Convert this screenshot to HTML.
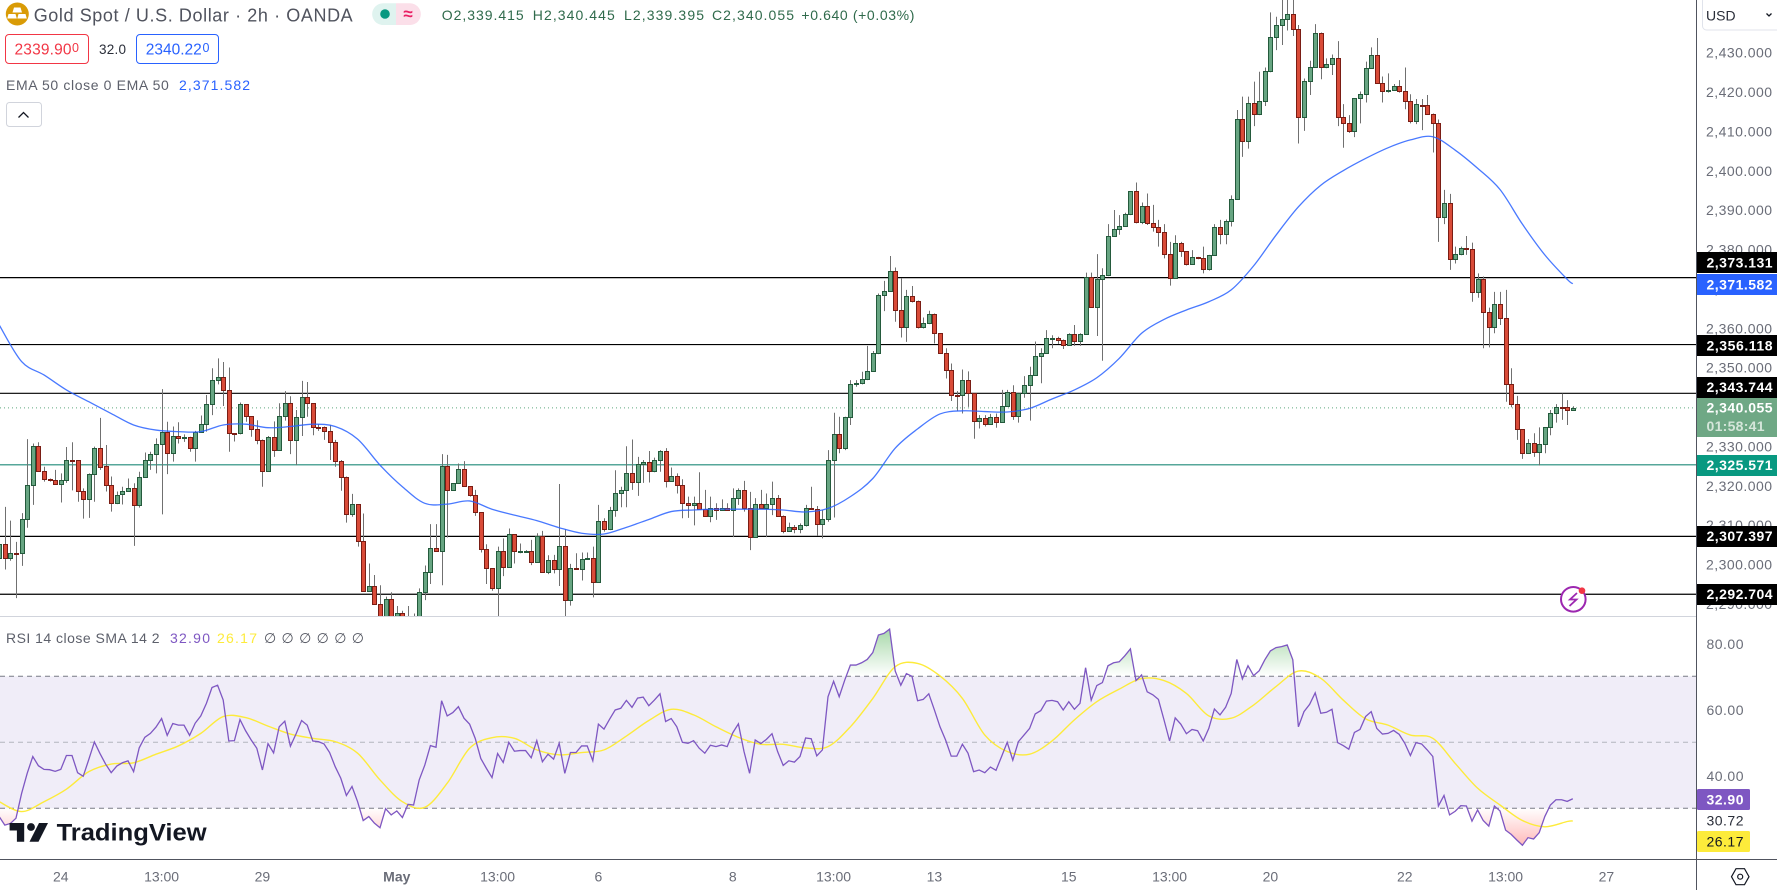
<!DOCTYPE html>
<html lang="en">
<head>
<meta charset="utf-8">
<title>Gold Spot / U.S. Dollar 2h chart</title>
<style>
html,body{margin:0;padding:0;background:#fff;width:1777px;height:890px;overflow:hidden}
svg{display:block;font-family:"Liberation Sans","DejaVu Sans",sans-serif}
.tick{font-size:14px;fill:#6a6d78;dominant-baseline:central}
.tag{font-size:14px;fill:#fff;dominant-baseline:central;font-weight:bold}
.leg{font-size:14px;fill:#5d606b;dominant-baseline:central}
</style>
</head>
<body>
<svg id="chart" xmlns="http://www.w3.org/2000/svg" width="1777" height="890" viewBox="0 0 1777 890">
  <defs>
    <clipPath id="mainClip"><rect x="0" y="0" width="1696" height="616"/></clipPath>
    <clipPath id="rsiClip"><rect x="0" y="617" width="1696" height="242"/></clipPath>
    <clipPath id="overClip"><rect x="0" y="617" width="1696" height="59.3"/></clipPath>
    <clipPath id="underClip"><rect x="0" y="808.3" width="1696" height="51"/></clipPath>
    <clipPath id="axisClip"><rect x="1697" y="31" width="80" height="585"/></clipPath>
    <linearGradient id="overGrad" gradientUnits="userSpaceOnUse" x1="0" y1="676" x2="0" y2="628">
      <stop offset="0" stop-color="#4caf50" stop-opacity="0"/><stop offset="1" stop-color="#4caf50" stop-opacity="0.5"/>
    </linearGradient>
    <linearGradient id="underGrad" gradientUnits="userSpaceOnUse" x1="0" y1="808" x2="0" y2="850">
      <stop offset="0" stop-color="#ff5252" stop-opacity="0"/><stop offset="1" stop-color="#ff5252" stop-opacity="0.45"/>
    </linearGradient>
  </defs>

  <rect x="0" y="676.3" width="1696" height="132" fill="#f0edf8"/>

  <g id="levels"></g>
  <g id="candles" clip-path="url(#mainClip)"></g>
  <path id="emaLine" clip-path="url(#mainClip)" fill="none" stroke="#2962ff" stroke-width="1.3" opacity="0.85"/>

  <g id="rsiPane" clip-path="url(#rsiClip)">
    <line x1="0" x2="1696" y1="676.3" y2="676.3" stroke="#787b86" stroke-dasharray="5 4"/>
    <line x1="0" x2="1696" y1="742.3" y2="742.3" stroke="#b2b5be" stroke-dasharray="5 4"/>
    <line x1="0" x2="1696" y1="808.3" y2="808.3" stroke="#787b86" stroke-dasharray="5 4"/>
    <path id="rsiOver" clip-path="url(#overClip)" fill="url(#overGrad)"/>
    <path id="rsiUnder" clip-path="url(#underClip)" fill="url(#underGrad)"/>
    <path id="smaLine" fill="none" stroke="#fdeb3b" stroke-width="1.4"/>
    <path id="rsiLine" fill="none" stroke="#7e57c2" stroke-width="1.3"/>
  </g>

  <!-- separators -->
  <line x1="0" x2="1696" y1="616.5" y2="616.5" stroke="#d1d4dc" stroke-width="1"/>
  <line x1="1696.5" x2="1696.5" y1="0" y2="890" stroke="#50535e" stroke-width="1"/>
  <line x1="0" x2="1777" y1="859.5" y2="859.5" stroke="#50535e" stroke-width="1"/>

  <!-- legend -->
  <g>
    <circle cx="17.3" cy="14" r="11.5" fill="#d99b06"/>
    <path d="M14 7.5h6.5l1.5 5h-9.5zM8.500 14h7l1.300 4.500h-9.500zM18.500 14h7l1.300 4.500h-9.500z" fill="#fff"/>
    <text x="33.700" y="15.500" font-size="18" fill="#50535e" style="dominant-baseline:central" textLength="319" lengthAdjust="spacing">Gold Spot / U.S. Dollar · 2h · OANDA</text>
    <path d="M383 3.300h13v21.700h-13a10.800 10.800 0 0 1 0-21.700z" fill="#dff3ef"/>
    <path d="M396 3.300h14a10.800 10.800 0 0 1 0 21.700h-14z" fill="#fbdfe9"/>
    <circle cx="385" cy="14" r="4.800" fill="#089981"/>
    <text x="408" y="14" font-size="17" font-weight="bold" fill="#e91e63" text-anchor="middle" style="dominant-baseline:central">≈</text>
    <text x="441.700" y="15" font-size="14" fill="#2f6a4b" style="dominant-baseline:central" textLength="82" lengthAdjust="spacing">O2,339.415</text>
    <text x="532.800" y="15" font-size="14" fill="#2f6a4b" style="dominant-baseline:central" textLength="82" lengthAdjust="spacing">H2,340.445</text>
    <text x="624" y="15" font-size="14" fill="#2f6a4b" style="dominant-baseline:central" textLength="80" lengthAdjust="spacing">L2,339.395</text>
    <text x="712" y="15" font-size="14" fill="#2f6a4b" style="dominant-baseline:central" textLength="82" lengthAdjust="spacing">C2,340.055</text>
    <text x="801.400" y="15" font-size="14" fill="#2f6a4b" style="dominant-baseline:central" textLength="113" lengthAdjust="spacing">+0.640 (+0.03%)</text>

    <rect x="5.500" y="34.500" width="83" height="29" rx="3.500" fill="#fff" stroke="#f23645"/>
    <text x="14.500" y="50" font-size="15.500" fill="#f23645" style="dominant-baseline:central" textLength="57" lengthAdjust="spacing">2339.90</text>
    <text x="72" y="48" font-size="12.500" fill="#f23645" style="dominant-baseline:central">0</text>
    <text x="99" y="49.500" font-size="13.500" fill="#2a2e39" style="dominant-baseline:central" textLength="27" lengthAdjust="spacing">32.0</text>
    <rect x="136.500" y="34.500" width="82" height="29" rx="3.500" fill="#fff" stroke="#2962ff"/>
    <text x="145.800" y="50" font-size="15.500" fill="#2962ff" style="dominant-baseline:central" textLength="56" lengthAdjust="spacing">2340.22</text>
    <text x="202.500" y="48" font-size="12.500" fill="#2962ff" style="dominant-baseline:central">0</text>

    <text class="leg" x="6" y="85" textLength="162.800" lengthAdjust="spacing">EMA 50 close 0 EMA 50</text>
    <text x="179" y="85" font-size="14" fill="#2962ff" style="dominant-baseline:central" textLength="71" lengthAdjust="spacing">2,371.582</text>

    <rect x="6.500" y="102.500" width="35" height="24" rx="3" fill="#fff" stroke="#d1d4dc"/>
    <path d="M18.500 117.500l5-5 5 5" fill="none" stroke="#131722" stroke-width="1.300"/>

    <text class="leg" x="6" y="638" textLength="153.600" lengthAdjust="spacing">RSI 14 close SMA 14 2</text>
    <text x="170" y="638" font-size="14" fill="#7e57c2" style="dominant-baseline:central" textLength="40" lengthAdjust="spacing">32.90</text>
    <text x="217" y="638" font-size="14" fill="#fdeb3b" style="dominant-baseline:central" textLength="40" lengthAdjust="spacing">26.17</text>
    <text x="264" y="638" font-size="14" fill="#50535e" style="dominant-baseline:central" textLength="100" lengthAdjust="spacing">∅ ∅ ∅ ∅ ∅ ∅</text>
  </g>

  <!-- TradingView logo -->
  <g>
    <path d="M9.600 823h14.600v18.700h-7.300v-11.200h-7.300z" fill="#131722"/>
    <circle cx="31" cy="827" r="3.900" fill="#131722"/>
    <path d="M39 823h9l-9.500 18.700h-9z" fill="#131722"/>
    <text x="56.600" y="833" font-size="24" font-weight="bold" fill="#131722" style="dominant-baseline:central" textLength="150" lengthAdjust="spacingAndGlyphs">TradingView</text>
  </g>

  <!-- alert icon -->
  <g>
    <circle cx="1573.300" cy="599.300" r="12.300" fill="#fff" stroke="#9c27b0" stroke-width="2"/>
    <path d="M1577 593l-7 6.500h6.500l-7 6.500" fill="none" stroke="#9c27b0" stroke-width="1.800"/>
    <circle cx="1582" cy="590.700" r="3.300" fill="#f23645"/>
  </g>

  <!-- price axis -->
  <rect x="1697" y="0" width="80" height="616" fill="#fff"/>
  <g id="priceTicks" clip-path="url(#axisClip)"></g>
  <rect x="1702.500" y="-3" width="80" height="33" rx="4" fill="#fff" stroke="#e0e3eb"/>
  <text x="1706" y="15.500" font-size="14" fill="#2a2e39" style="dominant-baseline:central">USD</text>
  <path d="M1766.500 13.500l2.500 2.500 2.500-2.500" fill="none" stroke="#131722" stroke-width="1.300"/>

  <g>
    <rect x="1697" y="252" width="80" height="21" fill="#000"/>
    <text class="tag" x="1706.500" y="262.500" textLength="66" lengthAdjust="spacing">2,373.131</text>
    <rect x="1697" y="274" width="80" height="21" fill="#2962ff"/>
    <text class="tag" x="1706.500" y="284.500" textLength="66" lengthAdjust="spacing">2,371.582</text>
    <rect x="1697" y="335" width="80" height="21" fill="#000"/>
    <text class="tag" x="1706.500" y="345.500" textLength="66" lengthAdjust="spacing">2,356.118</text>
    <rect x="1697" y="377" width="80" height="21" fill="#000"/>
    <text class="tag" x="1706.500" y="387" textLength="66" lengthAdjust="spacing">2,343.744</text>
    <rect x="1697" y="398" width="80" height="39" fill="#6fa885"/>
    <text class="tag" x="1706.500" y="407.500" textLength="66" lengthAdjust="spacing">2,340.055</text>
    <text x="1706.500" y="426" font-size="14" fill="#d5e6da" font-weight="bold" style="dominant-baseline:central" textLength="58" lengthAdjust="spacing">01:58:41</text>
    <rect x="1697" y="455" width="80" height="21" fill="#089981"/>
    <text class="tag" x="1706.500" y="465" textLength="66" lengthAdjust="spacing">2,325.571</text>
    <rect x="1697" y="526" width="80" height="21" fill="#000"/>
    <text class="tag" x="1706.500" y="536" textLength="66" lengthAdjust="spacing">2,307.397</text>
    <rect x="1697" y="584" width="80" height="21" fill="#000"/>
    <text class="tag" x="1706.500" y="594" textLength="66" lengthAdjust="spacing">2,292.704</text>
  </g>

  <!-- RSI axis -->
  <g id="rsiTicks"></g>
  <rect x="1697" y="789" width="53" height="21" rx="1.500" fill="#7e57c2"/>
  <text x="1706.500" y="799.500" font-size="14" fill="#fff" font-weight="bold" style="dominant-baseline:central" textLength="37" lengthAdjust="spacing">32.90</text>
  <text x="1706.500" y="820.700" font-size="14" fill="#2a2e39" style="dominant-baseline:central" textLength="37" lengthAdjust="spacing">30.72</text>
  <rect x="1697" y="831" width="53" height="21" rx="1.500" fill="#fdeb3b"/>
  <text x="1706.500" y="841.500" font-size="14" fill="#131722" style="dominant-baseline:central" textLength="37" lengthAdjust="spacing">26.17</text>

  <!-- time axis -->
  <g id="timeTicks"></g>
  <g>
    <path d="M1731.500 876.700l4.500-8h8.500l4.500 8-4.500 8h-8.500z" fill="none" stroke="#131722" stroke-width="1.200"/>
    <circle cx="1740.200" cy="876.700" r="2.500" fill="none" stroke="#131722" stroke-width="1.200"/>
  </g>
</svg>

<script>
const opens = [
2301.8,2305.4,2301.8,2303.3,2303.1,2311.7,2320.4,2330.3,2324.1,2322.1,
2321.8,2320.8,2321.6,2326.7,2326.7,2319.0,2316.8,2323.2,2329.8,2325.3,
2320.4,2315.8,2318.1,2319.0,2319.8,2315.3,2322.6,2326.7,2328.2,2330.8,
2333.8,2328.7,2332.8,2332.5,2332.6,2329.8,2333.8,2335.9,2340.9,2347.0,
2348.0,2344.7,2333.6,2333.6,2340.9,2337.9,2334.6,2332.0,2324.1,2332.6,
2329.3,2338.1,2341.2,2332.0,2337.6,2342.7,2341.2,2335.3,2335.1,2334.1,
2331.3,2326.5,2322.4,2313.0,2315.5,2306.1,2293.4,2294.7,2290.1,2284.5,
2291.5,2284.5,2287.9,2285.0,2282.0,2283.0,2293.2,2298.3,2304.4,2303.6,
2325.3,2319.3,2320.9,2324.4,2320.1,2318.0,2313.5,2304.1,2299.3,2294.4,
2303.8,2299.5,2307.9,2303.7,2303.8,2303.8,2301.0,2307.4,2298.4,2301.3,
2299.0,2304.9,2291.2,2299.3,2299.2,2301.6,2301.8,2295.9,2311.3,2309.2,
2314.0,2318.3,2319.3,2323.4,2321.1,2325.7,2326.2,2323.9,2326.7,2329.2,
2321.4,2322.7,2320.4,2315.8,2315.3,2316.0,2314.3,2312.5,2314.5,2314.0,
2314.5,2314.0,2317.1,2319.3,2314.7,2307.2,2315.5,2314.5,2315.5,2317.1,
2312.7,2308.7,2309.7,2309.2,2310.2,2314.5,2314.3,2310.5,2311.7,2326.7,
2333.3,2329.8,2337.6,2346.1,2346.3,2347.5,2349.3,2353.9,2368.6,2369.6,
2374.7,2364.8,2360.7,2368.4,2367.3,2360.5,2361.5,2364.0,2359.0,2354.1,
2349.6,2343.2,2343.2,2347.0,2343.7,2336.6,2337.4,2336.0,2337.6,2336.4,
2340.4,2344.0,2338.1,2343.7,2345.8,2348.3,2353.1,2354.1,2357.7,2357.8,
2357.4,2355.9,2358.7,2356.9,2358.7,2373.2,2365.7,2372.7,2373.7,2383.6,
2385.4,2386.2,2389.2,2395.0,2387.3,2391.2,2386.9,2386.1,2384.8,2379.0,
2373.1,2381.8,2379.8,2376.7,2378.3,2378.0,2375.2,2378.8,2385.9,2384.1,
2387.4,2393.2,2413.3,2407.7,2417.4,2414.6,2417.9,2425.5,2434.2,2437.2,
2438.7,2440.0,2436.2,2413.8,2423.0,2426.5,2435.2,2426.5,2427.3,2428.8,
2413.8,2412.3,2410.4,2418.7,2419.7,2426.3,2429.6,2422.6,2420.4,2420.9,
2421.9,2420.4,2417.9,2412.8,2417.0,2416.9,2414.8,2412.3,2388.6,2392.0,
2377.8,2379.0,2380.6,2380.3,2369.4,2372.8,2364.3,2360.5,2366.4,2362.8,
2346.0,2340.9,2334.6,2328.5,2331.0,2328.9,2330.8,2335.1,2338.7,2340.2,
2340.2,2339.415];
const highs = [
2305.4,2314.9,2311.4,2306.0,2313.3,2332.1,2331.0,2331.3,2325.1,2322.1,
2324.3,2323.4,2330.1,2331.3,2326.7,2319.6,2323.4,2330.2,2337.5,2330.6,
2322.6,2318.8,2320.0,2322.1,2320.9,2323.8,2328.7,2328.9,2332.3,2344.8,
2336.5,2335.3,2336.4,2333.3,2332.7,2334.2,2338.1,2343.3,2350.1,2352.6,
2351.7,2350.3,2333.6,2341.4,2340.9,2337.9,2336.9,2332.0,2332.9,2336.6,
2341.2,2344.3,2343.0,2339.5,2346.9,2346.6,2341.2,2335.9,2335.3,2335.7,
2331.9,2326.8,2322.6,2318.2,2315.5,2313.2,2300.5,2297.6,2295.0,2292.1,
2293.2,2289.7,2288.5,2289.7,2287.8,2294.2,2300.0,2310.5,2310.5,2328.3,
2328.1,2320.9,2325.9,2326.5,2320.1,2319.2,2313.5,2305.4,2299.3,2304.8,
2306.9,2309.4,2307.9,2305.6,2303.9,2306.5,2308.2,2308.8,2302.6,2302.7,
2320.7,2309.2,2300.4,2303.1,2303.3,2303.3,2304.8,2315.4,2312.0,2314.9,
2324.2,2320.0,2330.3,2332.0,2327.6,2326.8,2329.1,2327.4,2329.3,2329.8,
2324.9,2323.4,2321.9,2317.5,2317.5,2323.7,2319.2,2317.5,2315.8,2316.8,
2315.8,2319.6,2319.6,2321.5,2318.7,2317.1,2319.2,2318.3,2321.3,2317.9,
2312.7,2310.9,2310.3,2310.7,2315.4,2320.0,2315.1,2314.1,2329.3,2338.8,
2337.8,2337.8,2347.1,2347.1,2349.2,2355.8,2354.5,2369.1,2372.3,2378.6,
2375.7,2372.9,2370.0,2371.0,2367.3,2363.0,2364.7,2364.0,2359.0,2355.2,
2351.3,2344.3,2349.8,2349.3,2343.7,2338.2,2338.2,2338.5,2338.6,2344.6,
2344.6,2345.8,2343.9,2348.1,2350.5,2356.9,2355.2,2359.8,2358.5,2358.1,
2357.4,2359.0,2361.1,2359.0,2374.4,2374.4,2379.1,2375.5,2386.7,2390.3,
2389.0,2389.6,2395.0,2397.3,2392.2,2394.5,2391.6,2387.8,2386.7,2382.2,
2383.9,2382.2,2379.8,2380.1,2378.4,2381.0,2378.9,2386.7,2387.8,2387.9,
2394.0,2415.7,2419.1,2419.1,2422.9,2425.4,2426.5,2440.5,2439.4,2445.0,
2445.0,2445.0,2437.3,2423.7,2428.2,2437.5,2435.4,2428.8,2429.8,2433.2,
2417.2,2414.4,2418.7,2420.4,2428.0,2431.6,2434.0,2424.2,2425.0,2422.3,
2423.3,2426.5,2419.7,2418.5,2418.5,2419.5,2414.8,2413.3,2395.4,2394.4,
2381.0,2381.0,2383.7,2382.0,2374.2,2373.4,2365.5,2369.5,2369.5,2370.0,
2350.1,2343.1,2334.6,2332.1,2333.6,2335.1,2335.1,2339.5,2341.0,2343.7,
2342.0,2340.445];
const lows = [
2301.8,2299.0,2301.2,2291.7,2299.9,2309.6,2315.4,2323.8,2321.3,2321.3,
2320.8,2316.0,2321.0,2319.1,2316.2,2311.9,2312.1,2316.2,2324.3,2318.8,
2313.7,2315.6,2315.5,2318.8,2305.0,2314.7,2322.6,2324.3,2323.4,2313.0,
2323.2,2326.4,2331.0,2331.4,2328.9,2326.4,2333.8,2334.0,2338.2,2346.0,
2340.5,2328.9,2331.5,2333.3,2336.5,2332.7,2330.8,2320.0,2323.8,2327.6,
2329.2,2336.8,2328.3,2325.5,2332.9,2337.8,2333.1,2334.2,2331.9,2326.8,
2325.1,2319.0,2310.9,2312.4,2304.8,2293.3,2293.3,2290.1,2284.0,2283.0,
2283.0,2283.0,2283.0,2280.0,2278.0,2281.0,2291.2,2295.3,2303.5,2295.0,
2307.1,2319.2,2320.9,2320.0,2317.5,2312.6,2303.3,2295.3,2293.6,2284.0,
2297.3,2299.4,2300.5,2303.1,2303.6,2300.1,2301.0,2298.4,2297.8,2298.0,
2294.8,2284.0,2289.8,2299.2,2296.2,2301.4,2291.9,2295.9,2308.6,2309.0,
2312.4,2314.8,2314.8,2319.2,2317.7,2321.0,2321.1,2323.7,2323.8,2319.8,
2321.3,2318.3,2312.0,2312.1,2310.2,2314.3,2312.4,2311.0,2311.6,2313.9,
2313.9,2307.2,2315.4,2313.7,2303.9,2307.2,2314.5,2307.2,2312.8,2312.4,
2308.2,2308.6,2308.2,2308.2,2309.9,2314.2,2307.5,2306.9,2311.1,2312.2,
2328.5,2329.3,2335.7,2345.4,2346.0,2347.1,2349.2,2353.7,2364.6,2369.6,
2361.9,2357.9,2356.8,2366.8,2360.2,2360.2,2361.3,2356.4,2354.1,2347.5,
2341.8,2339.2,2338.6,2340.3,2332.2,2334.8,2335.3,2335.9,2335.0,2336.3,
2340.3,2337.0,2336.3,2342.6,2336.8,2348.2,2346.3,2354.0,2355.2,2356.3,
2355.0,2355.8,2355.8,2355.8,2358.6,2365.6,2358.3,2352.0,2373.5,2383.5,
2384.0,2386.1,2389.0,2386.9,2386.7,2386.5,2384.8,2381.0,2378.0,2371.1,
2373.1,2378.4,2376.2,2376.7,2377.8,2374.2,2374.9,2378.6,2381.6,2381.6,
2386.1,2393.2,2403.8,2405.9,2411.6,2414.4,2416.7,2425.3,2430.9,2432.2,
2435.9,2434.5,2407.2,2410.4,2419.5,2426.4,2423.5,2426.3,2424.6,2411.6,
2406.1,2409.9,2408.8,2412.3,2417.6,2426.2,2422.6,2417.6,2420.1,2420.8,
2420.1,2415.9,2412.3,2412.1,2410.6,2414.6,2404.9,2382.2,2386.7,2375.1,
2376.7,2378.8,2378.9,2367.0,2368.0,2355.2,2355.4,2359.0,2361.1,2341.6,
2340.2,2331.9,2327.1,2328.4,2327.6,2325.4,2328.5,2333.1,2336.3,2337.0,
2335.7,2339.395];
const closes = [
2305.4,2301.8,2303.3,2303.2,2311.7,2320.4,2330.3,2324.1,2322.1,2322.0,
2320.8,2321.6,2326.7,2326.6,2319.0,2316.8,2323.2,2329.8,2325.1,2320.4,
2315.8,2318.0,2319.0,2319.8,2315.3,2322.6,2326.7,2328.2,2330.8,2333.8,
2328.7,2332.8,2332.3,2332.6,2329.8,2333.8,2335.9,2340.9,2347.0,2348.0,
2344.7,2333.6,2333.5,2340.9,2337.9,2334.6,2332.0,2324.1,2332.6,2329.3,
2338.1,2341.2,2332.0,2337.6,2342.7,2341.2,2335.3,2335.2,2334.1,2331.3,
2326.5,2322.4,2313.0,2315.5,2306.1,2293.4,2294.7,2290.1,2285.5,2291.5,
2284.5,2287.9,2285.0,2282.0,2283.0,2293.2,2298.3,2304.4,2303.6,2325.3,
2319.3,2320.9,2324.4,2320.1,2318.0,2313.5,2304.1,2299.3,2294.4,2303.8,
2299.5,2307.9,2303.6,2303.8,2303.8,2301.0,2307.4,2298.4,2301.3,2299.0,
2304.9,2291.2,2299.3,2299.2,2301.6,2301.8,2295.9,2311.2,2309.2,2314.0,
2318.3,2319.3,2323.4,2321.1,2325.7,2326.2,2323.9,2326.7,2329.2,2321.4,
2322.7,2320.4,2315.8,2315.3,2316.0,2314.3,2312.5,2314.5,2314.0,2314.5,
2314.0,2317.1,2319.3,2314.7,2307.2,2315.5,2314.5,2315.5,2317.1,2312.7,
2308.7,2309.7,2309.2,2310.2,2314.5,2314.4,2310.5,2311.7,2326.7,2333.3,
2329.8,2337.6,2346.0,2346.3,2347.5,2349.3,2353.9,2368.6,2369.6,2374.7,
2364.8,2360.7,2368.4,2367.3,2360.5,2361.5,2364.0,2359.0,2354.1,2349.6,
2343.2,2343.1,2347.0,2343.7,2336.6,2337.4,2336.0,2337.6,2336.4,2340.4,
2344.0,2338.1,2343.7,2345.8,2348.3,2353.1,2354.1,2357.7,2357.8,2357.4,
2355.9,2358.7,2356.9,2358.7,2373.2,2365.7,2372.7,2373.7,2383.6,2385.4,
2386.2,2389.2,2395.0,2387.3,2391.2,2386.9,2386.0,2384.8,2379.0,2373.1,
2381.8,2379.8,2376.7,2378.3,2378.2,2375.2,2378.8,2385.9,2384.1,2387.4,
2393.2,2413.3,2407.7,2417.4,2414.6,2417.9,2425.5,2434.2,2437.2,2438.7,
2440.0,2436.2,2413.8,2423.0,2426.5,2435.2,2426.5,2427.3,2428.8,2413.8,
2412.3,2410.4,2418.7,2419.7,2426.3,2429.6,2422.6,2420.4,2420.9,2421.9,
2420.4,2417.9,2412.8,2417.1,2416.9,2414.8,2412.3,2388.6,2392.0,2377.8,
2379.0,2380.6,2380.5,2369.4,2372.8,2364.3,2360.5,2366.4,2362.8,2346.0,
2340.9,2334.6,2328.5,2331.0,2328.9,2330.8,2335.1,2338.7,2340.2,2340.1,
2339.4,2340.055];

// EMA 50 read every 4th bar; the final entry is the last bar.
const emaSampleEvery = 4;
const emaValues = [
2361.1,2351.8,2348.4,2344.6,2341.6,2338.6,2335.7,2334.4,2334.0,2334.0,
2335.7,2335.9,2335.0,2335.3,2335.9,2335.3,2332.1,2325.5,2320.0,2315.8,
2315.6,2316.4,2314.3,2312.8,2311.4,2309.6,2308.2,
2308.0,2309.7,2311.7,2313.7,2314.1,2314.3,2314.3,2314.3,2314.1,2313.6,
2314.5,2317.5,2322.1,2329.8,2334.7,2338.5,2339.3,2339.1,2339.0,2339.9,
2342.3,2344.6,2347.7,2352.6,2359.0,2362.5,
2364.9,2367.0,2370.0,2376.1,2383.9,2391.1,2396.6,2400.3,2403.4,2406.1,
2408.1,2408.9,2405.5,2400.9,2395.5,2386.7,2378.9,2372.7,2371.582];

const rsiValues = [
27.5,24.9,25.4,27.0,34.5,40.6,45.7,42.9,41.8,41.7,
41.2,41.8,46.0,46.0,40.8,39.7,44.8,50.1,46.6,43.4,
40.8,42.8,43.8,44.4,41.1,48.3,51.5,52.7,54.6,57.2,
52.1,55.7,55.2,55.2,52.1,55.8,58.0,61.8,66.6,67.3,
62.8,50.4,50.5,56.9,53.5,50.7,48.2,41.6,49.6,46.8,
54.7,56.4,48.8,52.5,56.6,55.2,50.4,50.2,49.5,46.9,
42.6,39.1,33.9,36.6,32.0,26.3,27.5,25.5,24.1,29.9,
28.0,29.2,27.2,31.2,31.0,38.6,43.1,49.0,48.5,62.6,
58.0,59.0,60.8,57.3,55.5,51.2,45.1,42.1,39.3,46.6,
43.9,50.0,47.3,47.5,47.5,45.3,50.5,44.1,46.4,44.9,
49.7,40.6,46.9,46.9,48.9,48.9,44.4,55.5,54.0,57.0,
59.8,60.3,62.7,60.6,63.4,63.7,61.1,62.8,64.7,56.3,
57.2,54.7,50.0,49.7,50.5,48.2,46.7,49.1,48.7,49.2,
48.7,52.9,55.6,47.2,40.6,50.7,49.6,50.9,52.6,47.2,
43.0,44.4,44.0,45.7,51.3,51.1,45.9,47.7,63.8,68.5,
63.8,68.9,73.4,73.4,74.1,75.1,77.2,82.5,83.0,84.3,
71.6,67.3,70.8,70.0,62.6,63.0,64.7,59.8,54.7,50.7,
45.8,45.8,49.4,46.7,41.1,41.6,40.8,42.5,41.5,45.7,
50.0,44.6,50.2,52.2,54.2,58.6,59.6,62.5,62.7,62.3,
59.8,62.3,60.0,61.8,72.6,62.8,67.2,68.1,73.2,74.1,
74.4,76.2,78.3,68.7,70.4,65.3,64.4,63.0,56.8,50.4,
57.4,55.5,52.6,53.9,53.5,50.4,54.2,60.1,58.3,60.6,
64.8,75.1,69.2,73.2,70.2,71.7,75.0,77.7,78.7,79.0,
79.5,75.0,54.7,59.3,61.5,65.0,58.8,59.1,60.0,49.9,
49.0,47.9,53.0,53.9,57.8,59.3,54.2,52.5,52.7,53.6,
52.4,49.7,46.0,49.9,49.5,47.7,45.7,30.7,33.9,28.0,
29.1,30.8,30.7,26.1,29.5,26.3,24.6,30.7,29.2,23.4,
22.1,20.4,18.8,21.1,20.7,22.6,27.5,31.0,32.6,32.6,
32.1,32.9];

// RSI-based SMA read every 4th bar; the final entry is the last bar.
const smaSampleEvery = 4;
const smaValues = [
32.0,29.0,32.0,35.8,41.1,43.4,43.8,46.4,48.9,52.7,
57.8,57.5,54.9,52.5,51.2,50.2,46.7,38.6,32.0,30.3,
37.6,48.2,51.4,51.2,47.7,46.2,46.9,
47.7,51.9,56.6,60.0,58.3,54.7,51.5,49.4,49.4,48.3,
48.7,54.7,63.3,72.9,73.9,70.1,63.3,52.2,47.2,46.4,
50.4,56.8,62.3,66.1,69.3,68.7,
64.8,58.0,57.3,61.3,66.9,71.6,69.4,62.8,57.1,55.2,
52.2,51.2,43.6,36.1,31.0,26.3,24.4,26.0,26.17];

const levelPrices = [2373.131,2356.118,2343.744,2307.397,2292.704];
const supportPrice = 2325.571;
const lastPrice = 2340.055;
const priceTickValues = [2430,2420,2410,2400,2390,2380,2370,2360,2350,2340,2330,2320,2310,2300,2290];
const rsiTickValues = [80,60,40];
const timeLabels = ['24','13:00','29','May','13:00','6','8','13:00','13','15','13:00','20','22','13:00','27'];
const timeLabelBars = [11,29,47,71,89,107,131,149,167,191,209,227,251,269,287];

const NS = 'http://www.w3.org/2000/svg';
const barX = i => -0.8 + 5.6 * i;
const priceY = p => 53.7 + (2430 - p) * 3.937;
const priceLabelY = p => 52.7 + (2430 - p) * 3.937;
const rsiY = v => 808.3 - (v - 30) * 3.3;

function node(tag, attrs, parent) {
  const el = document.createElementNS(NS, tag);
  for (const k in attrs) el.setAttribute(k, attrs[k]);
  parent.appendChild(el);
  return el;
}

function smoothPath(pts) {
  let d = 'M' + pts[0][0].toFixed(2) + ' ' + pts[0][1].toFixed(2);
  for (let i = 0; i < pts.length - 1; i++) {
    const p0 = pts[Math.max(i - 1, 0)], p1 = pts[i], p2 = pts[i + 1], p3 = pts[Math.min(i + 2, pts.length - 1)];
    const c1x = p1[0] + (p2[0] - p0[0]) / 6, c1y = p1[1] + (p2[1] - p0[1]) / 6;
    const c2x = p2[0] - (p3[0] - p1[0]) / 6, c2y = p2[1] - (p3[1] - p1[1]) / 6;
    d += 'C' + c1x.toFixed(2) + ' ' + c1y.toFixed(2) + ' ' + c2x.toFixed(2) + ' ' + c2y.toFixed(2) + ' ' + p2[0].toFixed(2) + ' ' + p2[1].toFixed(2);
  }
  return d;
}

// horizontal levels
const levelsG = document.getElementById('levels');
levelPrices.forEach(p => {
  const yy = priceY(p);
  const el = node('line', {x1: 0, x2: 1696, y1: yy, y2: yy, stroke: '#000', 'stroke-width': 1.2}, levelsG);
  
  
});
const supportLine = node('line', {x1: 0, x2: 1696, y1: priceY(supportPrice), y2: priceY(supportPrice), stroke: '#1f8a78', 'stroke-width': 1.2}, levelsG);


const lastLine = node('line', {x1: 0, x2: 1696, y1: priceY(lastPrice), y2: priceY(lastPrice), stroke: '#5fa97f', 'stroke-width': 1, 'stroke-dasharray': '1 3'}, levelsG);



// candles
const candlesG = document.getElementById('candles');
opens.forEach((o, i) => {
  const c = closes[i];
  const up = c >= o;
  const cx = Math.round(barX(i));
  const wick = node('line', {x1: cx + 0.5, x2: cx + 0.5, y1: priceY(highs[i]), y2: priceY(lows[i]), stroke: '#707070', 'stroke-width': 1}, candlesG);
  
  
  const top = Math.round(priceY(Math.max(o, c)));
  const bot = Math.round(priceY(Math.min(o, c)));
  const body = node('rect', {x: cx - 1.5, y: top + 0.5, width: 4, height: Math.max(bot - top, 1),
    fill: up ? '#67a582' : '#d94b38', stroke: up ? '#245a3c' : '#7a1d14', 'stroke-width': 1}, candlesG);
  
  
});

// EMA line
const lastBar = opens.length - 1;
const emaPts = emaValues.map((v, k) => [barX(Math.min(k * emaSampleEvery, lastBar)), priceY(v)]);
document.getElementById('emaLine').setAttribute('d', smoothPath(emaPts));

// RSI line and fills
const rsiPts = rsiValues.map((v, i) => [barX(i), rsiY(v)]);
const rsiD = rsiPts.map((p, i) => (i ? 'L' : 'M') + p[0].toFixed(2) + ' ' + p[1].toFixed(2)).join('');
document.getElementById('rsiLine').setAttribute('d', rsiD);
const areaBody = rsiPts.map(p => 'L' + p[0].toFixed(2) + ' ' + p[1].toFixed(2)).join('');
const xFirst = rsiPts[0][0], xLast = rsiPts[rsiPts.length - 1][0];
document.getElementById('rsiOver').setAttribute('d', 'M' + xFirst + ' ' + rsiY(70) + areaBody + 'L' + xLast + ' ' + rsiY(70) + 'Z');
document.getElementById('rsiUnder').setAttribute('d', 'M' + xFirst + ' ' + rsiY(30) + areaBody + 'L' + xLast + ' ' + rsiY(30) + 'Z');

// SMA line
const smaPts = smaValues.map((v, k) => [barX(Math.min(k * smaSampleEvery, lastBar)), rsiY(v)]);
document.getElementById('smaLine').setAttribute('d', smoothPath(smaPts));

// price ticks
const priceTicksG = document.getElementById('priceTicks');
priceTickValues.forEach(p => {
  const t = node('text', {x: 1706, y: priceLabelY(p), class: 'tick', textLength: 66, lengthAdjust: 'spacing'}, priceTicksG);
  
  
  t.textContent = p.toLocaleString('en-US', {minimumFractionDigits: 3, maximumFractionDigits: 3});
});

// RSI ticks
const rsiTicksG = document.getElementById('rsiTicks');
rsiTickValues.forEach(v => {
  const t = node('text', {x: 1706.5, y: rsiY(v) + 0.5, class: 'tick', textLength: 37, lengthAdjust: 'spacing'}, rsiTicksG);
  
  
  t.textContent = v.toFixed(2);
});

// time ticks
const timeTicksG = document.getElementById('timeTicks');
timeLabels.forEach((label, k) => {
  const t = node('text', {x: barX(timeLabelBars[k]), y: 876.7, class: 'tick', 'text-anchor': 'middle'}, timeTicksG);
  
  
  if (label === 'May') t.setAttribute('font-weight', 'bold');
  t.textContent = label;
});
</script>
</body>
</html>
